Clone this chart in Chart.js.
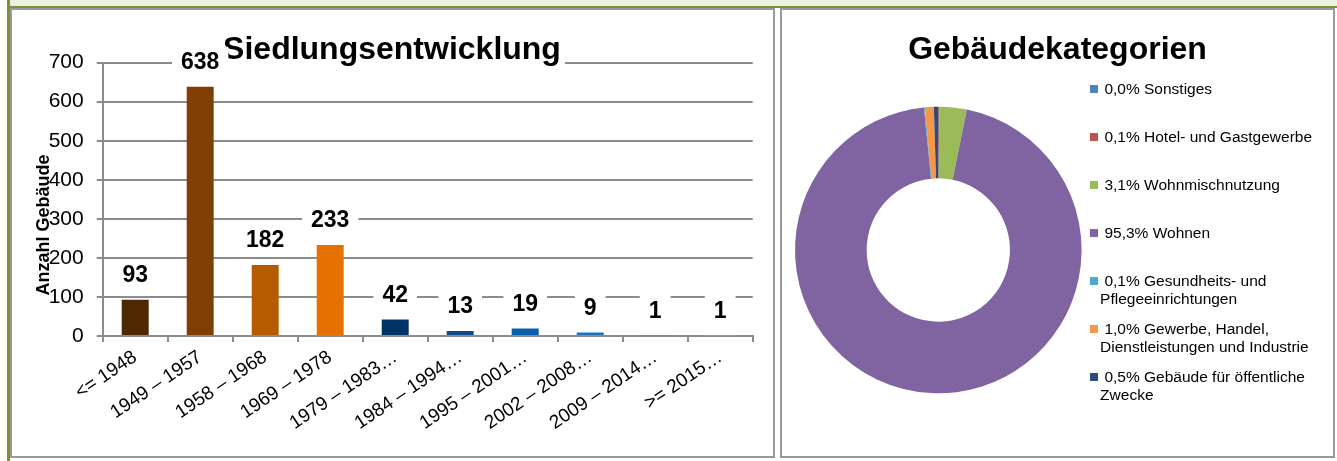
<!DOCTYPE html>
<html><head><meta charset="utf-8">
<script src="https://cdn.jsdelivr.net/npm/chart.js@4.4.1/dist/chart.umd.min.js"></script>
<style>
html,body{margin:0;padding:0;background:#fff;width:1337px;height:461px;overflow:hidden;font-family:"Liberation Sans",Arial,sans-serif;}
#hdr{position:absolute;left:10px;top:0;width:1327px;height:6px;background:#EBF1DE;border-bottom:2px solid #77933C;}
#gbar{position:absolute;left:7px;top:0;width:3px;height:461px;background:#77933C;}
.panel{position:absolute;border:2px solid #9a9a9a;background:#fff;box-sizing:border-box;}
#p1{left:10px;top:8px;width:765px;height:450px;}
#p2{left:780px;top:8px;width:555px;height:450px;}
canvas{position:absolute;}
#c1{left:12px;top:10px;}
#c2{left:782px;top:10px;}
.lg{position:absolute;font-size:15.5px;line-height:17.5px;color:#000;}
.lg .mk{position:absolute;left:0;top:4.6px;width:8.3px;height:8.3px;}
.lg .tx{position:absolute;left:10.6px;top:0;white-space:pre;}
</style></head>
<body>
<div id="hdr"></div>
<div id="gbar"></div>
<div class="panel" id="p1"></div>
<div class="panel" id="p2"></div>
<canvas id="c1" width="761" height="446"></canvas>
<canvas id="c2" width="551" height="446"></canvas>
<div id="legend"></div>
<script>
// ---- data: Siedlungsentwicklung ----
const barTitle = "Siedlungsentwicklung";
const yAxisTitle = "Anzahl Gebäude";
const barCategories = ["<= 1948","1949 – 1957","1958 – 1968","1969 – 1978","1979 – 1983…","1984 – 1994…","1995 – 2001…","2002 – 2008…","2009 – 2014…",">= 2015…"];
const barValues = [93, 638, 182, 233, 42, 13, 19, 9, 1, 1];
const yTickValues = [0, 100, 200, 300, 400, 500, 600, 700];
const barColors = ["#4E2800","#7F3F00","#B65C00","#E47100","#003366","#0B4C8C","#0660AC","#1C72C2","#3C8AD4","#63A6E0"];

// ---- data: Gebäudekategorien ----
const donutTitle = "Gebäudekategorien";
const catLabels = ["Sonstiges","Hotel- und Gastgewerbe","Wohnmischnutzung","Wohnen","Gesundheits- und\nPflegeeinrichtungen","Gewerbe, Handel,\nDienstleistungen und Industrie","Gebäude für öffentliche\nZwecke"];
const catValues = [0.0, 0.1, 3.1, 95.3, 0.1, 1.0, 0.5];
const catColors = ["#4F81BD","#C0504D","#9BBB59","#8064A2","#4BACC6","#F79646","#2C4D75"];

const FONT = '"Liberation Sans", Arial, sans-serif';
Chart.defaults.font.family = FONT;
Chart.defaults.color = '#000';

const GRID = '#8c8c8c';

const barDecor = {
  id: 'barDecor',
  afterDatasetsDraw(chart) {
    const ctx = chart.ctx;
    ctx.save();
    ctx.font = 'bold 32px ' + FONT;
    const tw = ctx.measureText(barTitle).width;
    const tx = 380;
    ctx.fillStyle = '#fff';
    ctx.fillRect(tx - tw/2 - 4, 23, tw + 8, 35);
    ctx.fillStyle = '#000';
    ctx.textAlign = 'center';
    ctx.textBaseline = 'alphabetic';
    ctx.fillText(barTitle, tx, 49.3);
    const meta = chart.getDatasetMeta(0);
    ctx.font = 'bold 23px ' + FONT;
    ctx.textBaseline = 'middle';
    meta.data.forEach((bar, i) => {
      const t = String(chart.data.datasets[0].data[i]);
      const w = ctx.measureText(t).width;
      const cy = bar.y - 25;
      ctx.fillStyle = '#fff';
      ctx.fillRect(bar.x - w/2 - 9, cy - 15, w + 18, 30);
      ctx.fillStyle = '#000';
      ctx.fillText(t, bar.x, cy + 1);
    });
    ctx.restore();
  },
  afterDraw(chart) {
    const ctx = chart.ctx;
    ctx.save();
    ctx.translate(37, 215);
    ctx.rotate(-Math.PI/2);
    ctx.font = 'bold 18px ' + FONT;
    ctx.fillStyle = '#000';
    ctx.textAlign = 'center';
    ctx.textBaseline = 'alphabetic';
    ctx.fillText(yAxisTitle, 0, 0);
    ctx.restore();
  }
};

new Chart(document.getElementById('c1'), {
  type: 'bar',
  data: { labels: barCategories, datasets: [{ data: barValues, backgroundColor: barColors, borderWidth: 0, categoryPercentage: 1, barPercentage: 0.415 }] },
  options: {
    responsive: false, animation: false,
    layout: { padding: { top: 52.6, right: 20.3, bottom: 0, left: 0 } },
    plugins: { legend: { display: false }, tooltip: { enabled: false }, title: { display: false } },
    scales: {
      y: {
        min: 0, max: 700,
        afterBuildTicks: s => { s.ticks = yTickValues.map(v => ({ value: v })); },
        afterFit: s => { s.width = 90.7; },
        grid: { color: GRID, lineWidth: 2, tickLength: 6, drawTicks: true },
        border: { color: GRID, width: 2 },
        ticks: { font: { size: 21 }, color: '#000', padding: 13 }
      },
      x: {
        afterFit: s => { s.height = 120; },
        grid: { offset: true, drawOnChartArea: false, drawTicks: true, tickLength: 6, color: GRID, lineWidth: 2 },
        border: { color: GRID, width: 2 },
        ticks: { font: { size: 19 }, color: '#000', minRotation: 34, maxRotation: 34, autoSkip: false, padding: 4 }
      }
    }
  },
  plugins: [barDecor]
});

const donutDecor = {
  id: 'donutDecor',
  afterDraw(chart) {
    const ctx = chart.ctx;
    ctx.save();
    ctx.font = 'bold 32px ' + FONT;
    ctx.fillStyle = '#000';
    ctx.textAlign = 'center';
    ctx.textBaseline = 'alphabetic';
    ctx.fillText(donutTitle, 275.5, 49.3);
    ctx.restore();
  }
};

new Chart(document.getElementById('c2'), {
  type: 'doughnut',
  data: { labels: catLabels, datasets: [{ data: catValues, backgroundColor: catColors, borderWidth: 0 }] },
  options: {
    responsive: false, animation: false, cutout: '50%',
    layout: { padding: { left: 13, top: 96.7, right: 251.4, bottom: 62.7 } },
    plugins: { legend: { display: false }, tooltip: { enabled: false } }
  },
  plugins: [donutDecor]
});

const lg = document.getElementById('legend');
catLabels.forEach((lab, i) => {
  const item = document.createElement('div');
  item.className = 'lg';
  item.style.left = '1089.5px';
  item.style.top = (89 + i * 48 - 8.75) + 'px';
  const mk = document.createElement('div');
  mk.className = 'mk';
  mk.style.background = catColors[i];
  const tx = document.createElement('div');
  tx.className = 'tx';
  tx.textContent = ' ' + catValues[i].toFixed(1).replace('.', ',') + '% ' + lab;
  item.appendChild(mk); item.appendChild(tx);
  lg.appendChild(item);
});
</script>
</body></html>
